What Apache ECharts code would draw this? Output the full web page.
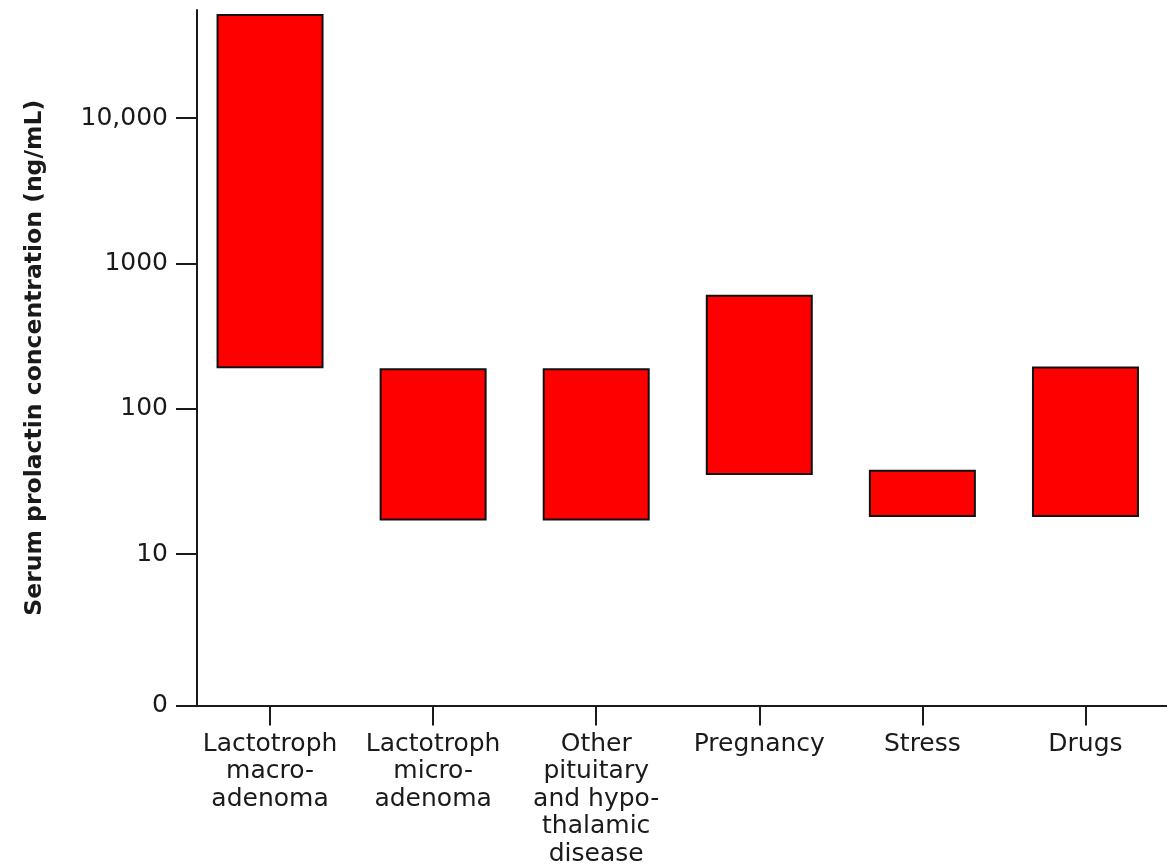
<!DOCTYPE html>
<html>
<head>
<meta charset="utf-8">
<script src="https://cdn.jsdelivr.net/npm/echarts@6/dist/echarts.min.js"></script>
<style>
html,body{margin:0;padding:0;background:#fff;}
#chart{width:1167px;height:868px;}
</style>
</head>
<body>
<div id="chart"></div>
<script>
// Categories and ranges (ng/mL)
const categories = [
  'Lactotroph\nmacro-\nadenoma',
  'Lactotroph\nmicro-\nadenoma',
  'Other\npituitary\nand hypo-\nthalamic\ndisease',
  'Pregnancy',
  'Stress',
  'Drugs'
];
const lowValues  = [190, 17, 17, 35, 18, 18];
const highValues = [52000, 190, 190, 610, 38, 195];

// Axis (log10 scale; bottom labelled "0")
const axisBottomLog = -0.042;
const axisTopLog = 4.744;
const tickLogs = [axisBottomLog, 1, 2, 3, 4];
const tickLabels = ['0', '10', '100', '1000', '10,000'];

const lg = v => Math.log10(v);
const baseData = lowValues.map(v => lg(v));
const spanData = highValues.map((v, i) => lg(v) - lg(lowValues[i]));

const FONT = 'DejaVu Sans';
const INK = '#1a1a1a';
const chart = echarts.init(document.getElementById('chart'), null, {renderer: 'canvas'});
chart.setOption({
  backgroundColor: '#ffffff',
  animation: false,
  grid: {left: 188.5, right: -20.5, top: 10, bottom: 161, containLabel: false},
  xAxis: {
    type: 'category',
    data: categories,
    boundaryGap: true,
    axisLine: {show: true, onZero: false, lineStyle: {color: INK, width: 2}},
    axisTick: {show: true, alignWithLabel: true, length: 20, lineStyle: {color: INK, width: 2}},
    axisLabel: {
      interval: 0, margin: 25, color: INK, fontFamily: FONT, fontSize: 25,
      lineHeight: 27.5, align: 'center'
    },
    splitLine: {show: false}
  },
  yAxis: {
    type: 'value',
    min: axisBottomLog,
    max: axisTopLog,
    offset: -8.5,
    name: 'Serum prolactin concentration (ng/mL)',
    nameLocation: 'middle',
    nameGap: 150,
    nameRotate: 90,
    nameTextStyle: {fontFamily: FONT, fontSize: 23.5, fontWeight: 'bold', color: INK},
    axisLine: {show: true, lineStyle: {color: INK, width: 2}},
    axisTick: {show: true, length: 21, customValues: tickLogs, lineStyle: {color: INK, width: 2}},
    axisLabel: {
      customValues: tickLogs,
      margin: 29, color: INK, fontFamily: FONT, fontSize: 25,
      formatter: function (v) {
        let best = 0, d = Infinity;
        tickLogs.forEach((t, i) => { if (Math.abs(t - v) < d) { d = Math.abs(t - v); best = i; } });
        return tickLabels[best];
      }
    },
    splitLine: {show: false}
  },
  series: [
    {
      type: 'bar', stack: 'r', data: baseData, barWidth: 107,
      itemStyle: {color: 'rgba(0,0,0,0)'}, silent: true
    },
    {
      type: 'bar', stack: 'r', data: spanData, barWidth: 107,
      itemStyle: {color: '#ff0000', borderColor: '#111', borderWidth: 2}
    }
  ]
});
</script>
</body>
</html>
